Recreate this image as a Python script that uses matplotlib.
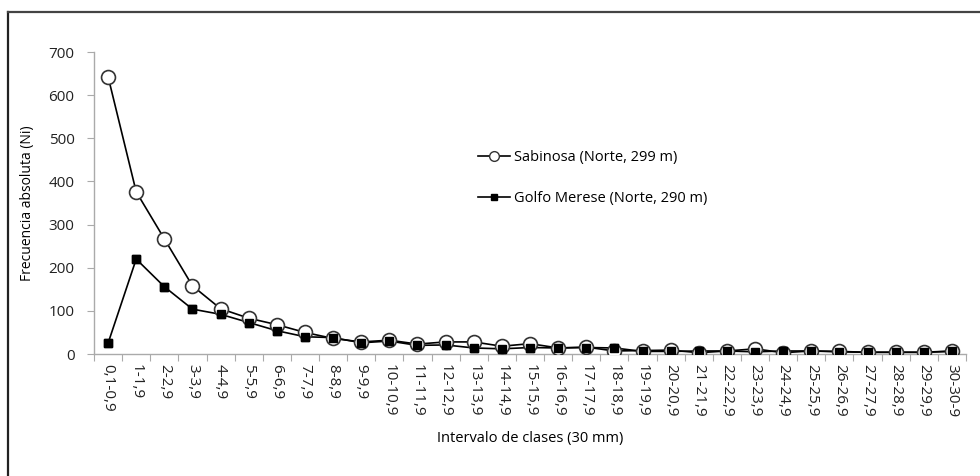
import matplotlib
matplotlib.use("Agg")
import matplotlib.pyplot as plt
from matplotlib.lines import Line2D

plt.rcParams['font.family'] = ['Open Sans', 'DejaVu Sans']

categories = ["0,1-0,9", "1-1,9", "2-2,9", "3-3,9", "4-4,9", "5-5,9", "6-6,9", "7-7,9",
              "8-8,9", "9-9,9", "10-10,9", "11-11,9", "12-12,9", "13-13,9", "14-14,9",
              "15-15,9", "16-16,9", "17-17,9", "18-18,9", "19-19,9", "20-20,9", "21-21,9",
              "22-22,9", "23-23,9", "24-24,9", "25-25,9", "26-26,9", "27-27,9", "28-28,9",
              "29-29,9", "30-30-9"]
sabinosa = [643, 376, 267, 158, 105, 83, 68, 50, 36, 28, 32, 23, 28, 28, 18, 24,
            14, 16, 7, 8, 9, 3, 7, 12, 3, 7, 6, 4, 4, 4, 7]
golfo = [25, 220, 156, 104, 92, 73, 54, 40, 38, 26, 30, 20, 21, 14, 12, 15,
         14, 15, 14, 6, 6, 7, 7, 5, 7, 7, 5, 4, 4, 4, 6]
yticks = [0, 100, 200, 300, 400, 500, 600, 700]
label_sab = "Sabinosa (Norte, 299 m)"
label_gol = "Golfo Merese (Norte, 290 m)"

fig = plt.figure(figsize=(9.8, 4.76), dpi=100)
ax = fig.add_axes([94/980, 1-354/476, (966-94)/980, (354-52)/476])

x = list(range(len(categories)))
ax.plot(x, golfo, color='black', lw=1.2, marker='s', ms=6, mfc='black', mec='black', zorder=3)
ax.plot(x, sabinosa, color='black', lw=1.2, marker='o', ms=10, mfc='white', mec='#333333',
        mew=1.2, zorder=4)
ax.plot(x, golfo, color='black', lw=1.2, marker='s', ms=6, mfc='black', mec='black', zorder=5,
        linestyle='none')

ax.set_xlim(-0.5, len(categories) - 0.5)
ax.set_ylim(0, 700)
ax.set_yticks(yticks)
ax.set_yticklabels([str(v) for v in yticks], fontsize=11, color='#222222')
ax.set_xticks([i - 0.5 for i in range(len(categories) + 1)])
ax.set_xticklabels([])
ax.set_xticks(x, minor=True)
ax.set_xticklabels(categories, minor=True, rotation=-90, fontsize=11, color='#222222')
ax.tick_params(axis='x', which='major', length=5, color='#aaaaaa', direction='out')
ax.tick_params(axis='x', which='minor', length=0, pad=7)
ax.tick_params(axis='y', length=5, color='#aaaaaa', direction='out', pad=9)

for s in ['top', 'right']:
    ax.spines[s].set_visible(False)
for s in ['left', 'bottom']:
    ax.spines[s].set_color('#aaaaaa')
    ax.spines[s].set_linewidth(1.0)

ax.set_ylabel("Frecuencia absoluta (Ni)", fontsize=10, labelpad=10)
ax.set_xlabel("Intervalo de clases (30 mm)", fontsize=10.5, labelpad=10)

handles = [Line2D([], [], color='black', lw=1.2, marker='o', ms=7, mfc='white', mec='#333333'),
           Line2D([], [], color='black', lw=1.2, marker='s', ms=5, mfc='black', mec='black')]
ax.legend(handles, [label_sab, label_gol], loc='upper left', bbox_to_anchor=(0.425, 0.72),
          frameon=False, fontsize=10.5, labelspacing=1.8, handlelength=2.2, handletextpad=0.3)

fig.add_artist(Line2D([8/980, 8/980], [0, 1-12/476], transform=fig.transFigure, color='#222222', lw=1.6))
fig.add_artist(Line2D([8/980, 1], [1-12/476, 1-12/476], transform=fig.transFigure, color='#444444', lw=1.6))

fig.savefig("out.png", dpi=100, facecolor='white')
